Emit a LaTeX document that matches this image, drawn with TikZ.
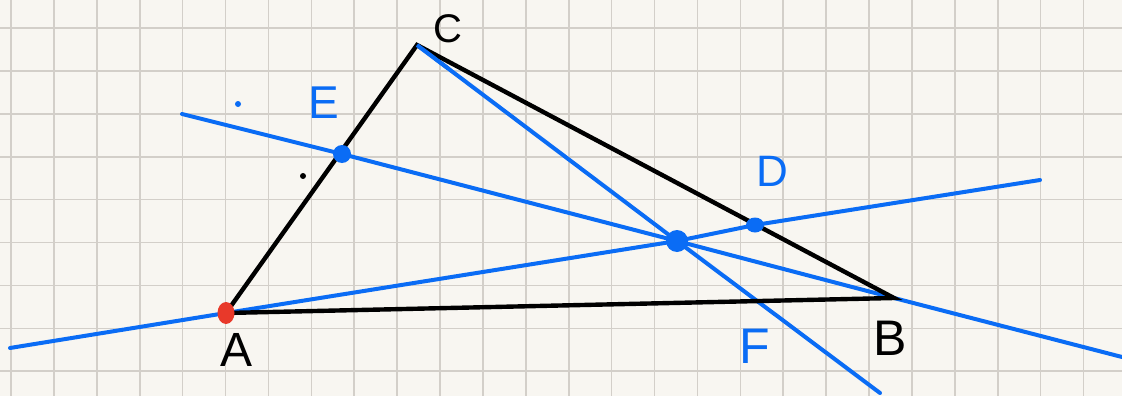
\documentclass[tikz,border=0pt]{standalone}
\usepackage{fontspec}
\usetikzlibrary{calc,shapes.geometric}
\newfontfamily\hand{Liberation Sans}
\definecolor{paper}{HTML}{F8F6F1}
\definecolor{gridc}{HTML}{D3CFC9}
\definecolor{penblue}{HTML}{0A6CF5}
\definecolor{penred}{HTML}{E8392A}
\tikzset{
  gridline/.style={draw=gridc, line width=1.6pt},
  blackline/.style={draw=black, line width=4.4pt, line cap=round},
  blueline/.style={draw=penblue, line width=4pt, line cap=round},
  bluedot/.style={circle, fill=penblue, inner sep=0pt, minimum size=#1},
  lab/.style={font=\hand\fontsize{40}{40}\selectfont, inner sep=0pt},
}
\begin{document}
\begin{tikzpicture}[x=1pt,y=-1pt]
\useasboundingbox (0,0) rectangle (1122,396);
\fill[paper] (0,0) rectangle (1122,396);
\foreach \i in {0,...,25} \draw[gridline] ({11+42.9*\i},0) -- ({11+42.9*\i},396);
\foreach \j in {0,...,8} \draw[gridline] (0,{28+42.9*\j}) -- (1122,{28+42.9*\j});

% vertices
\coordinate (A) at (226,313);
\coordinate (B) at (894,298);
\coordinate (C) at (417,45);
\coordinate (E) at (342,154);
\coordinate (D) at (755,225);
\coordinate (G) at (677,241);
% free ends of the blue lines
\coordinate (l1s) at (182,114);
\coordinate (l1e) at (1122,357);
\coordinate (l2s) at (10,348);
\coordinate (l2e) at (1040,180);
\coordinate (l3e) at (880,393);

% blue lines
\draw[blueline] (l1s) -- (E) -- (G) -- (B) -- (l1e);
\draw[blueline] (l2s) -- (A) -- (G) -- (D) -- (l2e);
\draw[blueline] (C) -- (G) -- (l3e);

% triangle
\draw[blackline] (A) -- (C) -- (B) -- (A);
\draw[blueline, line cap=butt] (C) -- ($(C)!0.12!(G)$);

% dots
\node[bluedot=18pt] (Edot) at (E) {};
\node[bluedot=22pt] (Gdot) at (G) {};
\node[ellipse, fill=penblue, inner sep=0pt, minimum width=18pt, minimum height=15pt] (Ddot) at (D) {};
\node[ellipse, fill=penred, inner sep=0pt, minimum width=17pt, minimum height=22pt] (Adot) at (A) {};
\node[circle, fill=penblue, inner sep=0pt, minimum size=6pt] (spk1) at (238,104) {};
\node[circle, fill=black, inner sep=0pt, minimum size=6pt] (spk2) at (303,176) {};

% labels
\node[lab] (labC) at (448,29) {C};
\node[lab, text=penblue, font=\hand\fontsize{46}{46}\selectfont] (labE) at (324,103) {E};
\node[lab, text=penblue, font=\hand\fontsize{44}{44}\selectfont] (labD) at (772,171) {D};
\node[lab, font=\hand\fontsize{48}{48}\selectfont] (labA) at (237,350) {A};
\node[lab, text=penblue, font=\hand\fontsize{50}{50}\selectfont] (labF) at (755,346) {F};
\node[lab, font=\hand\fontsize{50}{50}\selectfont] (labB) at (890,338) {B};
\end{tikzpicture}
\end{document}
